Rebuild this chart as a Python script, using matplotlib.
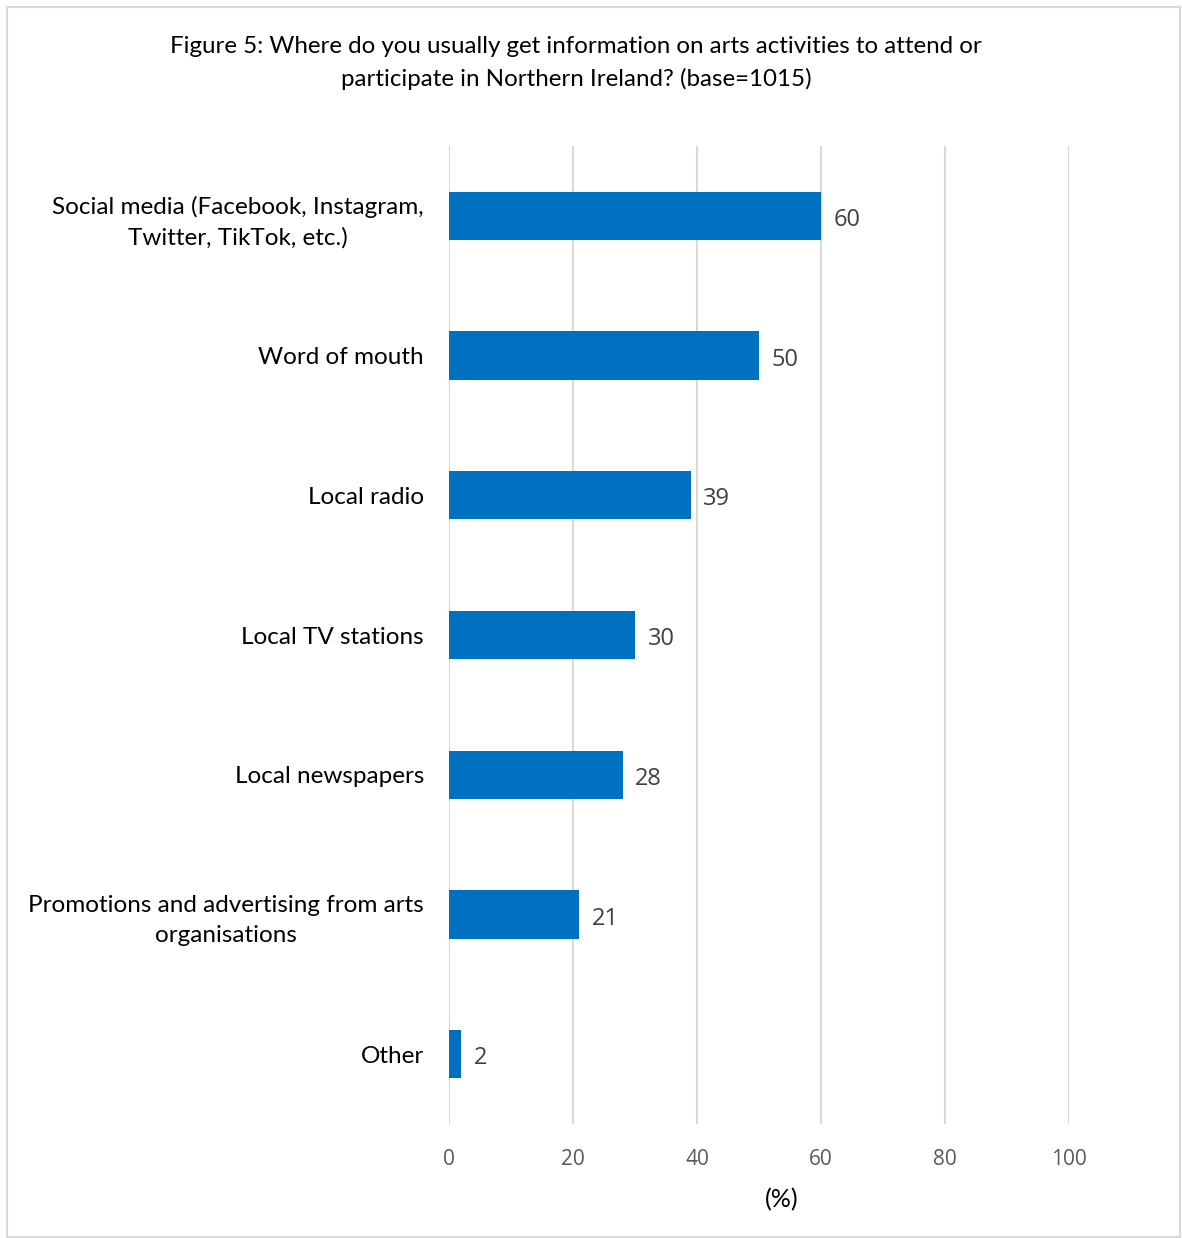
import matplotlib.pyplot as plt
from matplotlib.patches import Rectangle

categories = [
    "Social media (Facebook, Instagram,\nTwitter, TikTok, etc.)",
    "Word of mouth",
    "Local radio",
    "Local TV stations",
    "Local newspapers",
    "Promotions and advertising from arts\norganisations",
    "Other",
]
values = [60, 50, 39, 30, 28, 21, 2]
xticks = [0, 20, 40, 60, 80, 100]

title = ("Figure 5: Where do you usually get information on arts activities to attend or\n"
         "participate in Northern Ireland? (base=1015)")

bar_color = "#0070C0"
grid_color = "#D9D9D9"

plt.rcParams["font.family"] = ["Lato", "DejaVu Sans"]

W, H = 1182, 1238
fig = plt.figure(figsize=(W / 100, H / 100), dpi=100)
ax = fig.add_axes([449 / W, (H - 1124) / H, 620 / W, 978 / H])

# outer frame of the chart area
fig.patches.append(Rectangle((7 / W, 1 / H), 1173 / W, 1230 / H, transform=fig.transFigure,
                             fill=False, edgecolor=grid_color, linewidth=1.5))

ypos = list(range(len(categories)))
ax.barh(ypos, values, height=0.345, color=bar_color, zorder=3)
ax.set_ylim(len(categories) - 0.5, -0.5)
ax.set_xlim(0, 100)

for y, v in zip(ypos, values):
    ax.annotate(f"{v}", (v, y), xytext=(9, -3), textcoords="offset points",
                va="center", ha="left", fontsize=17, color="#404040",
                family=["Open Sans", "DejaVu Sans"])

ax.set_xticks(xticks)
ax.set_xticklabels([str(t) for t in xticks], color="#595959", fontsize=15,
                   family=["Open Sans", "DejaVu Sans"])
ax.set_yticks(ypos)
ax.set_yticklabels(categories, fontsize=17.5, color="black", ha="right",
                   multialignment="center", linespacing=1.5)
for lbl in ax.get_yticklabels():
    lbl.set_y(lbl.get_position()[1])
ax.tick_params(axis="both", length=0)
ax.tick_params(axis="x", pad=18)
ax.tick_params(axis="y", pad=18)

ax.grid(axis="x", color=grid_color, linewidth=1.5, zorder=0)
for s in ax.spines.values():
    s.set_visible(False)

ax.set_xlabel("(%)", fontsize=18, color="black")
ax.xaxis.set_label_coords((782 - 449) / 620, -(1200 - 1124) / 978)
ax.xaxis.label.set_va("center")

fig.text(576 / W, 1 - 63 / H, title, ha="center", va="center", fontsize=17.4,
         linespacing=1.6)

fig.savefig("out.png", dpi=100)
